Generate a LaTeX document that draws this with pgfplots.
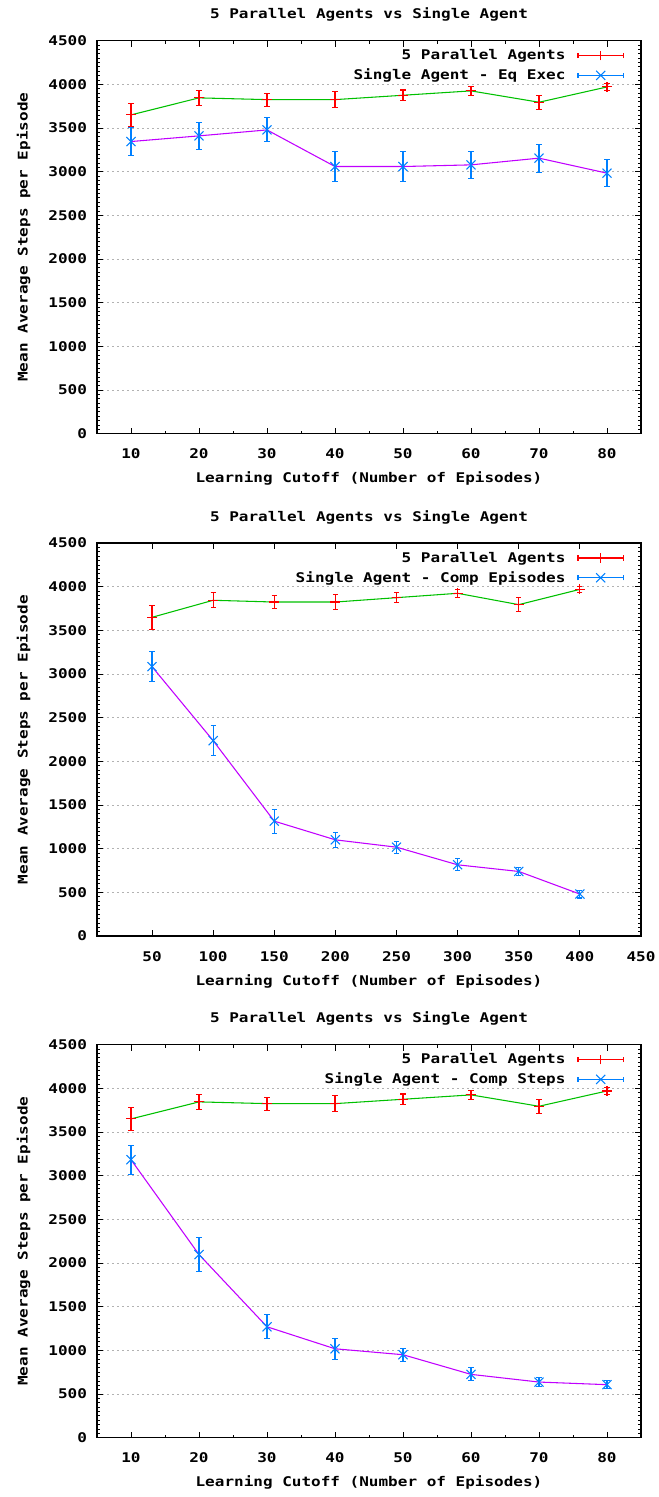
\documentclass[border=0pt]{standalone}
\usepackage{pgfplots}
\pgfplotsset{compat=1.18}
\usepackage{pgfplotstable}
\usepackage{fontspec}
\newfontfamily\gpfont{DejaVu Sans Mono}[FakeStretch=1.2]
\newcommand\gpf{\gpfont\bfseries\fontsize{10}{12}\selectfont}
\definecolor{gpred}{HTML}{FF0000}
\definecolor{gpgreen}{HTML}{00C000}
\definecolor{gpblue}{HTML}{0080FF}
\definecolor{gppurple}{HTML}{C000FF}

\pgfplotstableread{
x y e
10 3650 135
20 3845 85
30 3825 75
40 3825 90
50 3875 60
60 3925 48
70 3795 82
80 3970 38
}\parA
\pgfplotstableread{
x y e
50 3650 135
100 3845 85
150 3825 75
200 3825 90
250 3875 60
300 3925 48
350 3795 82
400 3970 38
}\parB
\pgfplotstableread{
x y e
10 3345 156
20 3410 152
30 3478 137
40 3059 175
50 3059 175
60 3078 158
70 3155 160
80 2983 158
}\eqexec
\pgfplotstableread{
x y e
50 3085 170
100 2238 175
150 1316 137
200 1102 84
250 1018 68
300 816 68
350 740 50
400 481 45
}\compep
\pgfplotstableread{
x y e
10 3183 166
20 2097 190
30 1270 137
40 1018 120
50 950 76
60 725 74
70 637 55
80 607 48
}\compst

\pgfplotsset{
  gp/.style={
    width=408pt, height=294.75pt, scale only axis,
    ymin=0, ymax=4500, ytick={0,500,...,4500}, minor y tick num=9,
    tick align=inside,
    major tick length=4.5pt, minor tick length=2.2pt,
    every tick/.style={black, line width=0.6pt},
    axis line style={black, line width=0.9pt},
    ymajorgrids,
    major grid style={gray!60, line width=0.75pt, dash pattern=on 1.5pt off 2.25pt},
    /pgf/number format/assume math mode=true,
    /pgf/number format/1000 sep={},
    scaled ticks=false,
    tick label style={font=\gpf},
    yticklabel style={xshift=-4pt},
    xticklabel style={yshift=-8pt},
    label style={font=\gpf},
    every axis title shift=0pt,
    title style={font=\gpf, at={(axis description cs:0.5,1.066)}, anchor=center},
    xlabel style={at={(axis description cs:0.5,-0.1145)}, anchor=center},
    ylabel style={at={(axis description cs:-0.135,0.5)}, anchor=center},
    title={5 Parallel Agents vs Single Agent},
    xlabel={Learning Cutoff (Number of Episodes)},
    ylabel={Mean Average Steps per Episode},
    legend style={font=\gpf, at={(axis description cs:0.969,0.985)}, anchor=north east,
      draw=none, fill=none, inner sep=0pt, row sep=1.5pt, column sep=7pt,
      cells={anchor=east}},
    legend plot pos=right,
  },
  gpline/.style={line width=0.8pt, forget plot},
  gperr/.style={only marks, line width=0.8pt,
    error bars/y dir=both, error bars/y explicit,
    error bars/error mark=|,
    error bars/error bar style={line width=0.8pt},
    error bars/error mark options={mark size=1.9pt, line width=0.8pt}},
  redleg/.style={legend image code/.code={
    \draw[draw=gpred, line width=0.8pt] (0pt,0pt) -- (34pt,0pt);
    \draw[draw=gpred, line width=0.8pt] (0pt,-1.9pt) -- (0pt,1.9pt) (34pt,-1.9pt) -- (34pt,1.9pt);
    \draw[draw=gpred, line width=0.8pt] (17pt,-3.6pt) -- (17pt,3.6pt);}},
  blueleg/.style={legend image code/.code={
    \draw[draw=gpblue, line width=0.8pt] (0pt,0pt) -- (34pt,0pt);
    \draw[draw=gpblue, line width=0.8pt] (0pt,-1.9pt) -- (0pt,1.9pt) (34pt,-1.9pt) -- (34pt,1.9pt);
    \draw[draw=gpblue, line width=0.8pt] (13.6pt,-3.4pt) -- (20.4pt,3.4pt) (13.6pt,3.4pt) -- (20.4pt,-3.4pt);}},
}

\begin{document}
\begin{tikzpicture}
\useasboundingbox (0,0) rectangle (494.25pt,-1122.75pt);

\begin{axis}[gp, at={(72.75pt,-30.5pt)}, anchor=north west,
  xmin=5, xmax=85, xtick={10,20,...,80}, minor x tick num=1]
\addplot[gpgreen, gpline] table[x=x,y=y] {\parA};
\addplot[gpred, mark=+, mark size=3.7pt, redleg, gperr] table[x=x,y=y,y error=e] {\parA};
\addlegendentry{5 Parallel Agents}
\addplot[gppurple, gpline] table[x=x,y=y] {\eqexec};
\addplot[gpblue, mark=x, mark size=4.8pt, blueleg, gperr] table[x=x,y=y,y error=e] {\eqexec};
\addlegendentry{Single Agent - Eq Exec}
\end{axis}

\begin{axis}[gp, at={(72.75pt,-407.3pt)}, anchor=north west,
  xmin=5, xmax=450, xtick={50,100,...,450}]
\addplot[gpgreen, gpline] table[x=x,y=y] {\parB};
\addplot[gpred, mark=+, mark size=3.7pt, redleg, gperr] table[x=x,y=y,y error=e] {\parB};
\addlegendentry{5 Parallel Agents}
\addplot[gppurple, gpline] table[x=x,y=y] {\compep};
\addplot[gpblue, mark=x, mark size=4.8pt, blueleg, gperr] table[x=x,y=y,y error=e] {\compep};
\addlegendentry{Single Agent - Comp Episodes}
\end{axis}

\begin{axis}[gp, at={(72.75pt,-783.5pt)}, anchor=north west,
  xmin=5, xmax=85, xtick={10,20,...,80}, minor x tick num=1]
\addplot[gpgreen, gpline] table[x=x,y=y] {\parA};
\addplot[gpred, mark=+, mark size=3.7pt, redleg, gperr] table[x=x,y=y,y error=e] {\parA};
\addlegendentry{5 Parallel Agents}
\addplot[gppurple, gpline] table[x=x,y=y] {\compst};
\addplot[gpblue, mark=x, mark size=4.8pt, blueleg, gperr] table[x=x,y=y,y error=e] {\compst};
\addlegendentry{Single Agent - Comp Steps}
\end{axis}
\end{tikzpicture}
\end{document}
